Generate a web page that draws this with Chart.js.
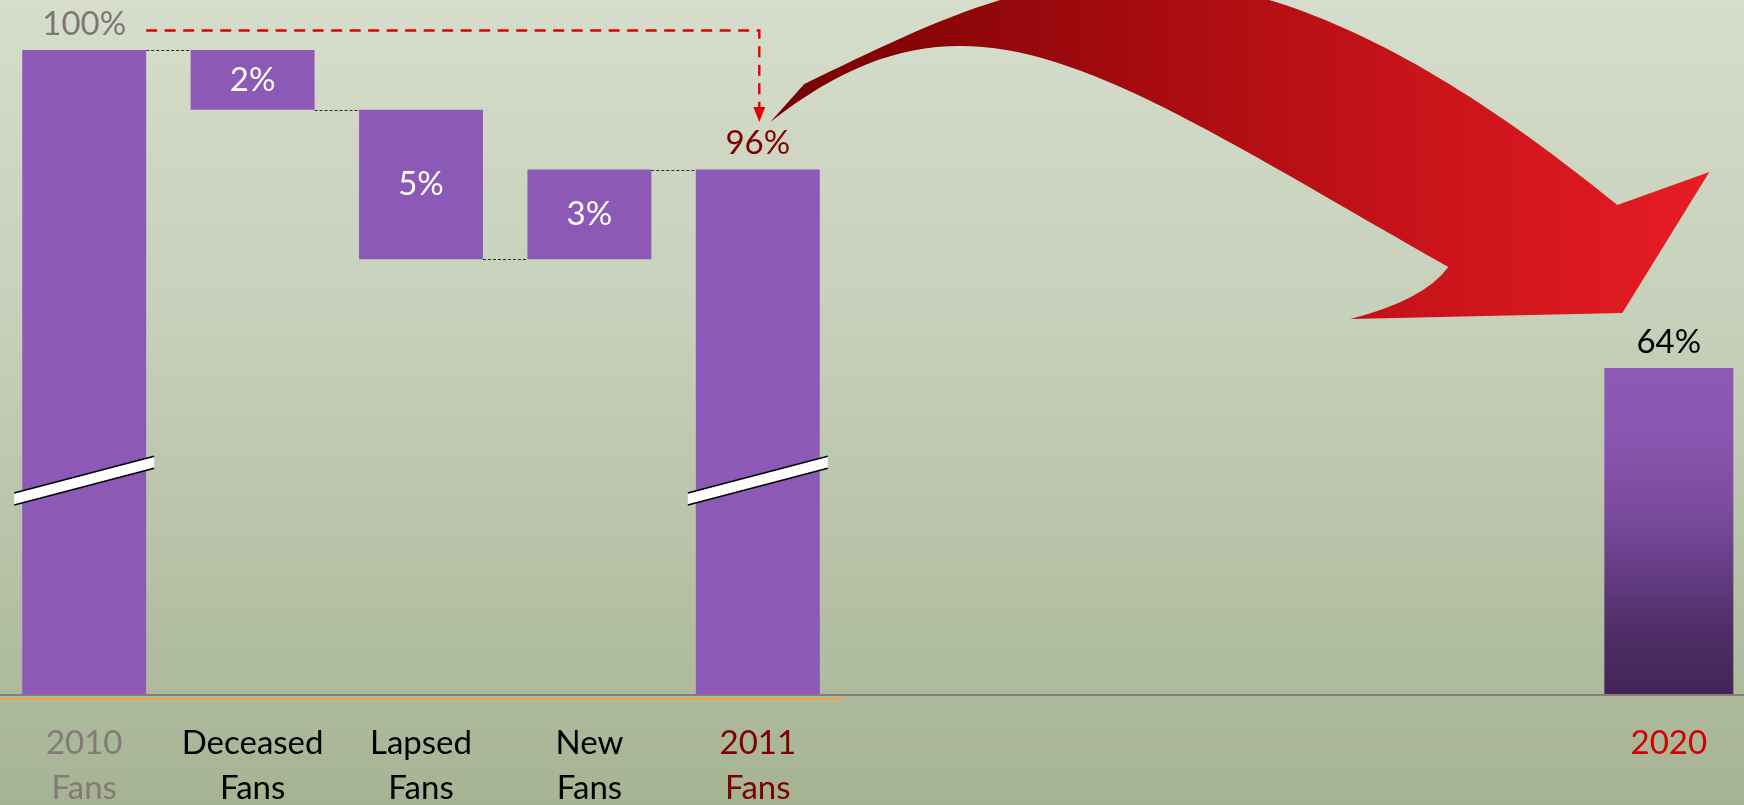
<!DOCTYPE html>
<html>
<head>
<meta charset="utf-8">
<title>Fan base: 2010, 2011 and 2020</title>
<script src="https://cdn.jsdelivr.net/npm/chart.js@4/dist/chart.umd.min.js"></script>
<style>
  html, body { margin: 0; padding: 0; }
  body { width: 1744px; height: 805px; overflow: hidden; }
  canvas { display: block; }
</style>
</head>
<body>
<canvas id="fans" width="1744" height="805"></canvas>
<script>
// ---- data -------------------------------------------------------------
const categories = ['2010 Fans', 'Deceased Fans', 'Lapsed Fans', 'New Fans', '2011 Fans'];
const shareValues = [100, -2, -5, 3, 96];          // % of the 2010 fan base
const isTotal = [true, false, false, false, true]; // totals start from zero
const forecastLabels = ['2020'];
const forecastValues = [64];

// ---- styles -----------------------------------------------------------
const FONT = 'Lato, "Open Sans", sans-serif';
const PURPLE = '#8d59b6';
const tickColors = ['#857a77', '#000000', '#000000', '#000000', '#7f0000'];
const totalLabelColors = ['#7f7571', null, null, null, '#800000'];
const forecastTickColor = '#d20000';
const spacerSlots = 5; // empty columns between the waterfall and 2020

// floating ranges for the waterfall
const ranges = [];
const levels = [];
let running = 0;
shareValues.forEach((v, i) => {
  if (isTotal[i]) { ranges.push([0, v]); running = v; }
  else { ranges.push([Math.min(running, running + v), Math.max(running, running + v)]); running += v; }
  levels.push(running);
});
const forecastAxisLabels = Array(spacerSlots).fill('').concat(forecastLabels);
const forecastData = Array(spacerSlots).fill(null).concat(forecastValues.map(v => [0, v]));

// linear scale with a compressed lower section (axis break)
class BrokenLinearScale extends Chart.LinearScale {
  static id = 'brokenLinear';
  _decimalFor(value) {
    const { breakAt, upperShare } = this.options;
    if (value <= breakAt) return (value - this.min) / (breakAt - this.min) * (1 - upperShare);
    return (1 - upperShare) + (value - breakAt) / (this.max - breakAt) * upperShare;
  }
  getPixelForValue(value) {
    if (value === null || value === undefined || isNaN(value)) return NaN;
    return this.getPixelForDecimal(this._decimalFor(value));
  }
  getValueForPixel(pixel) {
    const { breakAt, upperShare } = this.options;
    const d = this.getDecimalForPixel(pixel);
    if (d <= 1 - upperShare) return this.min + d / (1 - upperShare) * (breakAt - this.min);
    return breakAt + (d - (1 - upperShare)) / upperShare * (this.max - breakAt);
  }
}
Chart.register(BrokenLinearScale);

// bottom axes: fixed height, no extra side padding for the labels
function fitBottomAxis(scale) {
  scale.height = 106;
  scale.paddingLeft = 0;
  scale.paddingRight = 0;
}

// page background
const backdrop = {
  id: 'backdrop',
  beforeDraw(chart) {
    const { ctx, width, height } = chart;
    const g = ctx.createLinearGradient(0, 0, 0, height);
    g.addColorStop(0, '#d6ddcc');
    g.addColorStop(0.45, '#c4ceb7');
    g.addColorStop(1, '#a6b393');
    ctx.save();
    ctx.fillStyle = g;
    ctx.fillRect(0, 0, width, height);
    ctx.restore();
  }
};

// connectors, axis-break marks, value labels and the 2010 -> 2011 guide
const annotations = {
  id: 'annotations',
  afterDatasetsDraw(chart) {
    const { ctx } = chart;
    const y = chart.scales.y;
    const bars = chart.getDatasetMeta(0).data;
    const fBars = chart.getDatasetMeta(1).data;
    ctx.save();

    // dashed connectors between consecutive bars
    ctx.strokeStyle = '#2a2a2a';
    ctx.lineWidth = 1;
    ctx.setLineDash([3, 2]);
    for (let i = 0; i < bars.length - 1; i++) {
      const a = bars[i], b = bars[i + 1];
      const py = Math.round(y.getPixelForValue(levels[i])) + 0.5;
      ctx.beginPath();
      ctx.moveTo(a.x + a.width / 2, py);
      ctx.lineTo(b.x - b.width / 2, py);
      ctx.stroke();
    }
    ctx.setLineDash([]);

    // axis-break marks on the bars that cross the break
    const brk = y.options.breakAt;
    const by = y.getPixelForValue(brk);
    bars.forEach((bar, i) => {
      if (!(ranges[i][0] < brk && ranges[i][1] > brk)) return;
      const hw = bar.width / 2 + 8;
      const rise = hw * 0.262;
      const half = 6;
      const x0 = bar.x - hw, x1 = bar.x + hw;
      ctx.beginPath();
      ctx.moveTo(x0, by + rise - half);
      ctx.lineTo(x1, by - rise - half);
      ctx.lineTo(x1, by - rise + half);
      ctx.lineTo(x0, by + rise + half);
      ctx.closePath();
      ctx.fillStyle = '#ffffff';
      ctx.fill();
      ctx.strokeStyle = '#000000';
      ctx.lineWidth = 1.6;
      ctx.beginPath();
      ctx.moveTo(x0, by + rise - half); ctx.lineTo(x1, by - rise - half);
      ctx.moveTo(x0, by + rise + half); ctx.lineTo(x1, by - rise + half);
      ctx.stroke();
    });

    // value labels
    ctx.font = '33px ' + FONT;
    ctx.textAlign = 'center';
    ctx.textBaseline = 'middle';
    bars.forEach((bar, i) => {
      const text = Math.abs(shareValues[i]) + '%';
      if (isTotal[i]) {
        ctx.fillStyle = totalLabelColors[i];
        ctx.fillText(text, bar.x, bar.y - 26);
      } else {
        ctx.fillStyle = '#ffffff';
        ctx.fillText(text, bar.x, (bar.y + bar.base) / 2);
      }
    });
    fBars.forEach((bar, i) => {
      const v = forecastData[i];
      if (!v) return;
      ctx.fillStyle = '#000000';
      ctx.fillText(v[1] + '%', bar.x, bar.y - 26);
    });

    // red dashed guide from the 2010 total to the 2011 total
    const first = bars[0], last = bars[bars.length - 1];
    const gy = y.getPixelForValue(100) - 19.5;
    const gx0 = first.x + first.width / 2;
    const gx1 = last.x + 1.5;
    const tipY = y.getPixelForValue(100) + 72;
    ctx.strokeStyle = '#e00000';
    ctx.fillStyle = '#e00000';
    ctx.lineWidth = 2.4;
    ctx.setLineDash([11, 7.5]);
    ctx.beginPath();
    ctx.moveTo(gx0, gy);
    ctx.lineTo(gx1, gy);
    ctx.lineTo(gx1, tipY - 14);
    ctx.stroke();
    ctx.setLineDash([]);
    ctx.beginPath();
    ctx.moveTo(gx1 - 6, tipY - 15);
    ctx.lineTo(gx1 + 6, tipY - 15);
    ctx.lineTo(gx1, tipY);
    ctx.closePath();
    ctx.fill();
    ctx.restore();
  },

  // curved arrow from the 2011 total towards 2020
  afterDraw(chart) {
    const { ctx } = chart;
    const y = chart.scales.y;
    const bars = chart.getDatasetMeta(0).data;
    const fMeta = chart.getDatasetMeta(1).data;
    const target = fMeta[forecastData.findIndex(v => v)];
    if (!target) return;
    const A = { x: bars[bars.length - 1].x, y: y.getPixelForValue(100) };
    const B = { x: target.x, y: target.y };
    const p = (o, dx, dy) => [o.x + dx, o.y + dy];
    const T = p(A, 12.5, 72), U = p(A, 46.5, 34);
    const C1 = p(A, 266.5, -71), C2 = p(B, -463.5, -499);
    const A1 = p(B, -51.5, -163), H1 = p(B, 40.5, -196), P = p(B, -46.5, -55);
    const H2 = p(B, -318.5, -49), Q = p(B, -244.5, -68), N = p(B, -220.5, -101);
    const L1 = p(B, -570.5, -300), L2 = p(A, 212.5, -84);

    const g = ctx.createLinearGradient(T[0], 0, H1[0], 0);
    g.addColorStop(0, '#740000');
    g.addColorStop(0.35, '#a00a0f');
    g.addColorStop(0.7, '#c9141a');
    g.addColorStop(1, '#e81c25');

    ctx.save();
    ctx.beginPath();
    ctx.moveTo(...T);
    ctx.lineTo(...U);
    ctx.bezierCurveTo(...C1, ...C2, ...A1);
    ctx.lineTo(...H1);
    ctx.lineTo(...P);
    ctx.lineTo(...H2);
    ctx.quadraticCurveTo(...Q, ...N);
    ctx.bezierCurveTo(...L1, ...L2, ...T);
    ctx.closePath();
    ctx.fillStyle = g;
    ctx.fill();
    ctx.restore();
  }
};

new Chart(document.getElementById('fans'), {
  type: 'bar',
  data: {
    datasets: [
      {
        label: 'Fans',
        data: ranges,
        xAxisID: 'x',
        yAxisID: 'y',
        grouped: false,
        backgroundColor: PURPLE,
        borderWidth: 0,
        barPercentage: 0.736,
        categoryPercentage: 1
      },
      {
        label: 'Forecast',
        data: forecastData,
        xAxisID: 'x2',
        yAxisID: 'y2',
        grouped: false,
        borderWidth: 0,
        barPercentage: 0.858,
        categoryPercentage: 1,
        backgroundColor(ctx) {
          const chart = ctx.chart;
          const s = chart.scales.y2;
          if (!s || !chart.chartArea) return PURPLE;
          const top = s.getPixelForValue(Math.max(...forecastValues));
          const bottom = s.getPixelForValue(0);
          const g = chart.ctx.createLinearGradient(0, top, 0, bottom);
          g.addColorStop(0, '#8e59b6');
          g.addColorStop(0.2, '#8a56b0');
          g.addColorStop(0.45, '#7a4a9c');
          g.addColorStop(0.62, '#653c84');
          g.addColorStop(0.82, '#4d2d64');
          g.addColorStop(1, '#432556');
          return g;
        }
      }
    ]
  },
  options: {
    responsive: false,
    animation: false,
    devicePixelRatio: 1,
    layout: { padding: { top: 50, left: 0, right: 0, bottom: 0 } },
    plugins: { legend: { display: false }, tooltip: { enabled: false } },
    scales: {
      x: {
        type: 'category',
        labels: categories,
        position: 'bottom',
        stack: 'base',
        stackWeight: 842,
        offset: true,
        grid: { display: false, drawTicks: false },
        border: { display: true, color: '#f2a13e', width: 2 },
        afterFit: fitBottomAxis,
        ticks: {
          autoSkip: false,
          maxRotation: 0,
          padding: 21.5,
          font: { family: FONT, size: 33, lineHeight: 45 / 33 },
          color: (c) => tickColors[c.index] || '#000',
          callback(value) { return this.getLabelForValue(value).split(' '); }
        }
      },
      x2: {
        type: 'category',
        labels: forecastAxisLabels,
        position: 'bottom',
        stack: 'base',
        stackWeight: 902,
        offset: true,
        grid: { display: false, drawTicks: false },
        border: { display: false },
        afterFit: fitBottomAxis,
        ticks: {
          autoSkip: false,
          maxRotation: 0,
          padding: 21.5,
          font: { family: FONT, size: 33, lineHeight: 45 / 33 },
          color: forecastTickColor
        }
      },
      y: {
        type: 'brokenLinear',
        position: 'left',
        min: -1.6,
        max: 100,
        breakAt: 85.6,
        upperShare: 0.6635,
        afterBuildTicks(scale) { scale.ticks = [{ value: 0 }]; },
        afterFit(scale) { scale.width = 0; scale.paddingTop = 0; scale.paddingBottom = 0; },
        ticks: { display: false },
        border: { display: false },
        grid: { drawTicks: false, lineWidth: 2, color: '#877c7a', z: 1 }
      },
      y2: {
        type: 'linear',
        display: false,
        min: -0.78,
        max: 126.24
      }
    }
  },
  plugins: [backdrop, annotations]
});
</script>
</body>
</html>
